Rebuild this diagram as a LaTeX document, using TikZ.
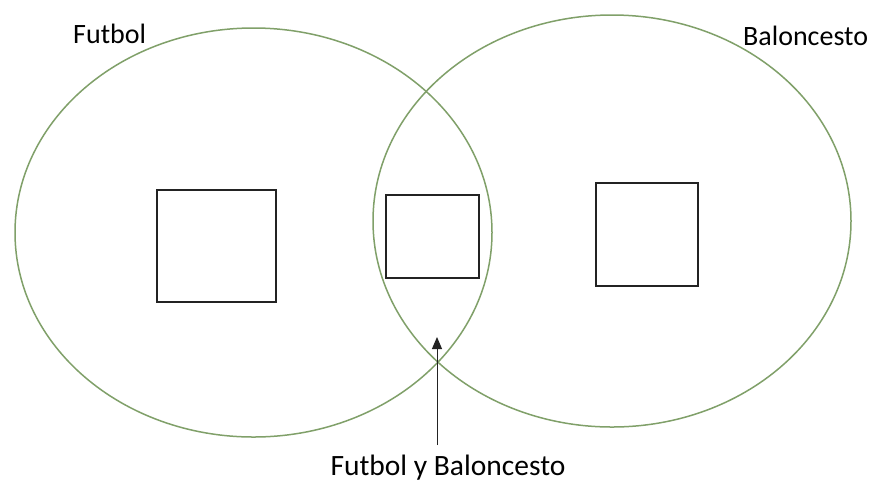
\documentclass[tikz,border=0pt]{standalone}
\usepackage{fontspec}
\setmainfont{Carlito}
\usetikzlibrary{arrows.meta,shapes.geometric}
\definecolor{venngreen}{RGB}{128,160,105}
\definecolor{boxline}{RGB}{35,35,35}
\begin{document}
\begin{tikzpicture}[x=1pt,y=-1pt,
  setline/.style={draw=venngreen,line width=1.5pt,ellipse,inner sep=0pt},
  emptybox/.style={draw=boxline,line width=1.3pt,inner sep=0pt},
  lbl/.style={font=\fontsize{28}{32}\selectfont,text=black,inner sep=0pt}]
\useasboundingbox (0,0) rectangle (877,483);
\fill[white] (0,0) rectangle (877,483);
\node[setline,minimum width=477pt,minimum height=409pt] (futset) at (253.5,232.5) {};
\node[setline,minimum width=478pt,minimum height=412pt] (basset) at (612,221) {};
\node[emptybox,minimum width=119pt,minimum height=112pt] (boxa) at (216.5,246) {};
\node[emptybox,minimum width=93pt,minimum height=83pt] (boxb) at (432.5,236.5) {};
\node[emptybox,minimum width=102pt,minimum height=103pt] (boxc) at (647,234.5) {};
\node[lbl,anchor=base west] (futlbl) at (73,43) {Futbol};
\node[lbl,anchor=base west] (baslbl) at (743,45) {Baloncesto};
\node[lbl,font=\fontsize{29.5}{33}\selectfont,anchor=base] (bothlbl) at (448,475.5) {Futbol y Baloncesto};
\coordinate (arrstart) at (437,445);
\coordinate (arrtip) at (437,337);
\draw[line width=1pt,draw=boxline,-{Triangle[length=12pt,width=10pt]}] (arrstart) -- (arrtip);
\end{tikzpicture}
\end{document}
